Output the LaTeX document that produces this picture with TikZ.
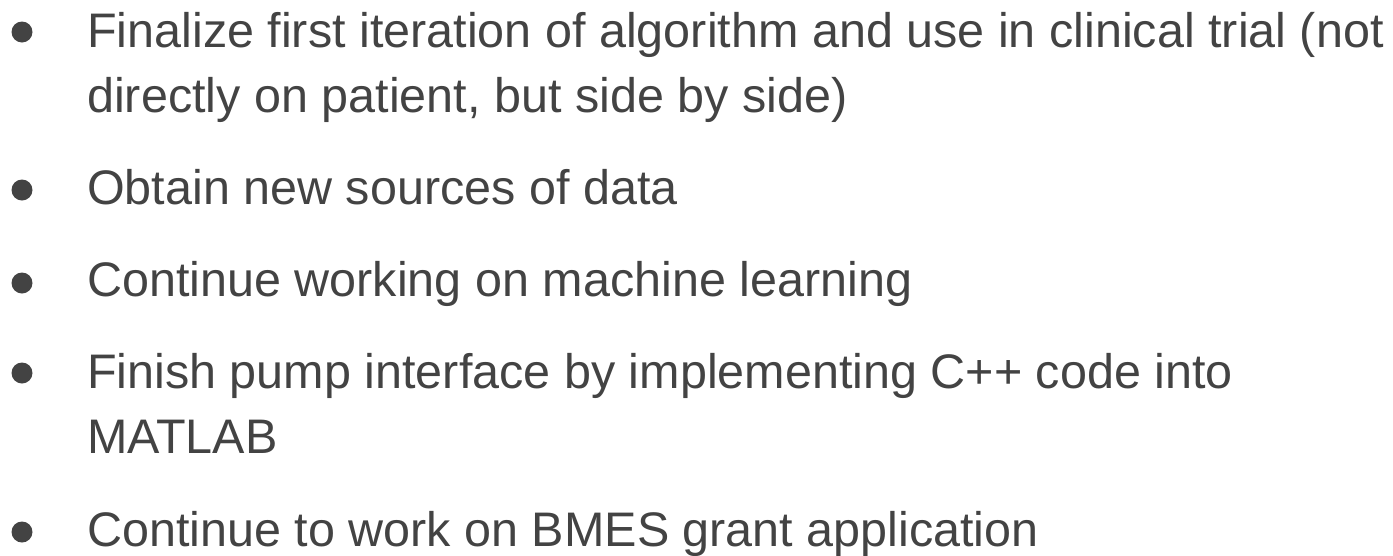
\documentclass[tikz,border=0pt]{standalone}
\usepackage{fontspec}
\setmainfont{Liberation Sans}
\usetikzlibrary{positioning}
\definecolor{slidegrey}{HTML}{434343}

\begin{document}
\begin{tikzpicture}[x=1pt, y=-1pt]
	\tikzset{
		item/.style={anchor=base west, inner sep=0pt, text=slidegrey, font=\fontsize{48.5}{48.5}\selectfont},
		dot/.style={circle, fill=slidegrey, minimum size=21pt, inner sep=0pt}
	}
	\useasboundingbox (0, 0) rectangle (1393, 555);
	% first item, two lines
	\node[dot] (b1) at (22, 32) {};
	\node[item] (t1a) at (87, 47) {Finalize first iteration of algorithm and use in clinical trial (not};
	\node[item] (t1b) at (87, 112) {directly on patient, but side by side)};
	% data
	\node[dot] (b2) at (22, 190) {};
	\node[item] (t2) at (87, 204) {Obtain new sources of data};
	% machine learning
	\node[dot] (b3) at (22, 283) {};
	\node[item] (t3) at (87, 296) {Continue working on machine learning};
	% pump interface
	\node[dot] (b4) at (22, 373) {};
	\node[item] (t4a) at (87, 388) {Finish pump interface by implementing C++ code into};
	\node[item] (t4b) at (87, 453) {MATLAB};
	% grant
	\node[dot] (b5) at (22, 532) {};
	\node[item] (t5) at (87, 546) {Continue to work on BMES grant application};
\end{tikzpicture}
\end{document}
